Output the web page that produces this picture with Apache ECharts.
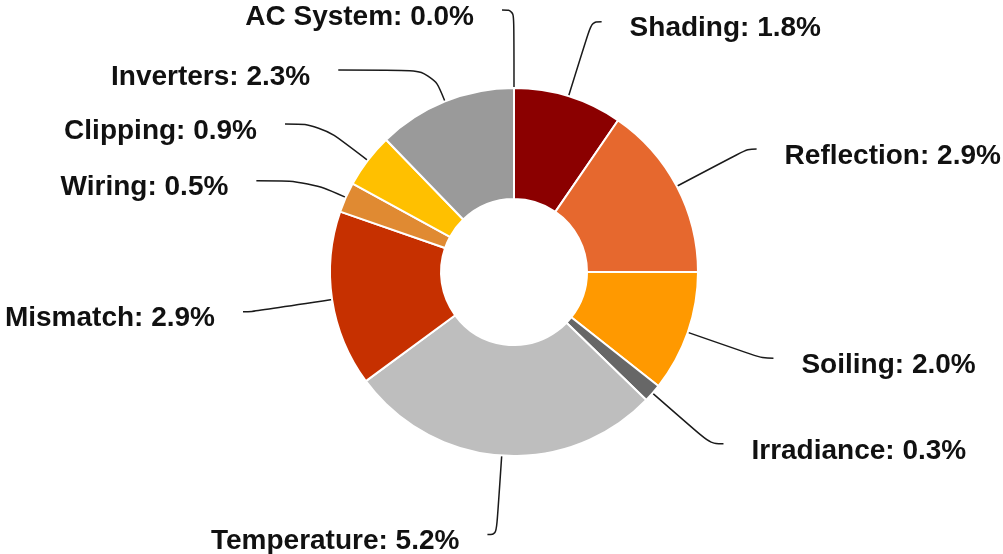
<!DOCTYPE html>
<html>
<head>
<meta charset="utf-8">
<script src="https://cdn.jsdelivr.net/npm/echarts@6/dist/echarts.min.js"></script>
<style>
  html, body { margin: 0; padding: 0; background: #fff; }
  #char { width: 1003px; height: 554px; }
</style>
</head>
<body>
<div id="char"></div>
<script>
// loss categories, clockwise from the top
const names = ['Shading', 'Reflection', 'Soiling', 'Irradiance', 'Temperature', 'Mismatch', 'Wiring', 'Clipping', 'Inverters', 'AC System']
const losses = [1.8, 2.9, 2.0, 0.3, 5.2, 2.9, 0.5, 0.9, 2.3, 0.0]
const colors = ['#8b0000', '#e6682e', '#ff9900', '#676767', '#bebebe', '#c63000', '#e08a32', '#ffc000', '#9a9a9a', '#7f7f7f']
// label line lengths (radial part, horizontal part) for each slice
const lineLen = [78, 80, 79, 77, 79, 81, 41, 60, 34, 78]
const lineLen2 = [10, 9, 11, 13, 9, 9, 52, 35, 94, 12]

let myChart = echarts.init(document.getElementById('char'))
let option = {
  animation: false,
  color: colors,
  series: [
    {
      type: 'pie',
      center: [514, 272],
      radius: [73, 184],
      startAngle: 90,
      clockwise: true,
      avoidLabelOverlap: false,
      itemStyle: { borderColor: '#fff', borderWidth: 2 },
      label: {
        show: true,
        position: 'outside',
        overflow: 'none',
        distanceToLabelLine: 28,
        // text sits a little below the end of its line
        formatter: (p) => '{t|' + p.name + ': ' + p.value.toFixed(1) + '%}',
        rich: {
          t: {
            color: '#111',
            fontFamily: 'Liberation Sans, Arial, sans-serif',
            fontWeight: 'bold',
            fontSize: 28,
            lineHeight: 32,
            padding: [14, 0, 0, 0]
          }
        }
      },
      labelLine: {
        show: true,
        smooth: 0.4,
        lineStyle: { color: '#1a1a1a', width: 1.5 }
      },
      data: names.map((n, i) => ({
        name: n,
        value: losses[i],
        labelLine: { length: lineLen[i], length2: lineLen2[i] }
      }))
    }
  ]
}
myChart.setOption(option)
</script>
</body>
</html>
